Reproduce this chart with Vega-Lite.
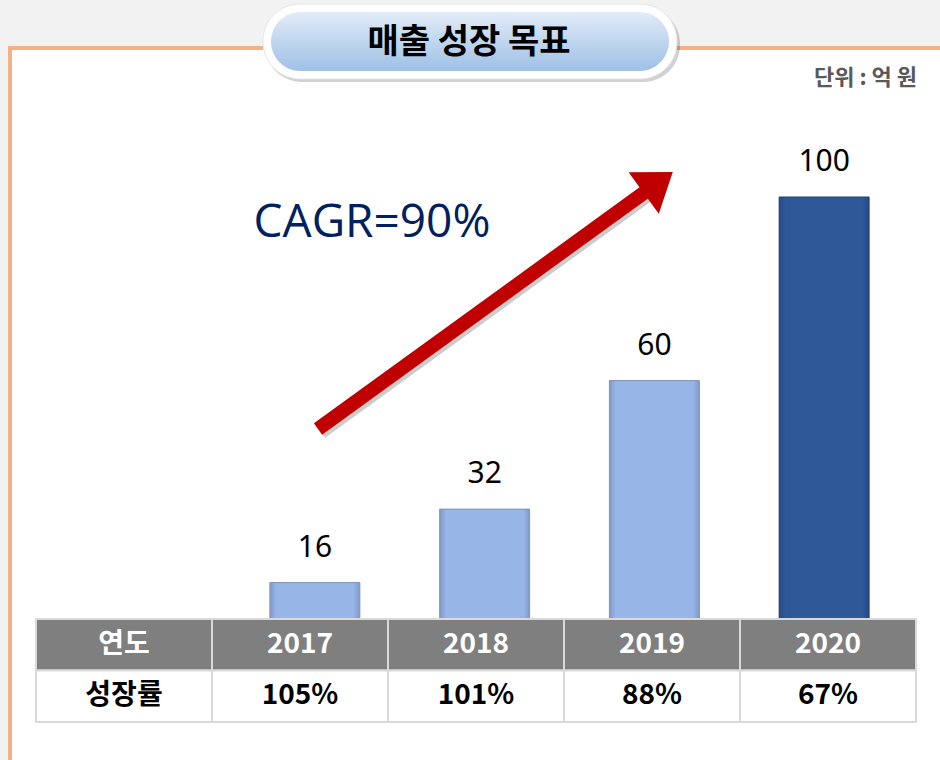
{
  "$schema": "https://vega.github.io/schema/vega-lite/v6.json",
  "width": 940,
  "height": 760,
  "autosize": {"type": "none"},
  "padding": 0,
  "background": "#f2f2f2",
  "config": {"view": {"stroke": null}, "axis": {"disable": true}, "legend": {"disable": true}},
  "datasets": {
    "sales": [
      {"year": "2017", "value": 16},
      {"year": "2018", "value": 32},
      {"year": "2019", "value": 60},
      {"year": "2020", "value": 100}
    ],
    "table": [
      {"col": "label", "row": "연도", "text": "연도"},
      {"col": "2017", "row": "연도", "text": "2017"},
      {"col": "2018", "row": "연도", "text": "2018"},
      {"col": "2019", "row": "연도", "text": "2019"},
      {"col": "2020", "row": "연도", "text": "2020"},
      {"col": "label", "row": "성장률", "text": "성장률"},
      {"col": "2017", "row": "성장률", "text": "105%"},
      {"col": "2018", "row": "성장률", "text": "101%"},
      {"col": "2019", "row": "성장률", "text": "88%"},
      {"col": "2020", "row": "성장률", "text": "67%"}
    ],
    "notes": [
      {"title": "매출 성장 목표", "unit": "단위 : 억 원", "cagr": "CAGR=90%"}
    ]
  },
  "resolve": {"scale": {"x": "independent", "y": "independent"}},
  "layer": [
    {
      "data": {"name": "notes"},
      "mark": {"type": "rect", "fill": "#ffffff", "stroke": "#f4b183", "strokeWidth": 4},
      "encoding": {"x": {"value": 10}, "x2": {"value": 980}, "y": {"value": 48}, "y2": {"value": 762}}
    },
    {
      "data": {"name": "notes"},
      "mark": {"type": "rect", "fill": "#000000", "opacity": 0.18, "cornerRadius": 37},
      "encoding": {"x": {"value": 265}, "x2": {"value": 680}, "y": {"value": 7}, "y2": {"value": 82}}
    },
    {
      "data": {"name": "notes"},
      "mark": {"type": "rect", "fill": "#ffffff", "stroke": "#e6e6e6", "strokeWidth": 1, "cornerRadius": 37},
      "encoding": {"x": {"value": 263}, "x2": {"value": 677}, "y": {"value": 4}, "y2": {"value": 79}}
    },
    {
      "data": {"name": "notes"},
      "mark": {
        "type": "rect",
        "cornerRadius": 30,
        "color": {
          "gradient": "linear", "x1": 0, "y1": 0, "x2": 0, "y2": 1,
          "stops": [{"offset": 0, "color": "#e1ecf8"}, {"offset": 1, "color": "#9fc0e6"}]
        }
      },
      "encoding": {"x": {"value": 271}, "x2": {"value": 669}, "y": {"value": 12}, "y2": {"value": 71}}
    },
    {
      "data": {"name": "notes"},
      "mark": {"type": "text", "font": "Noto Sans CJK KR", "fontWeight": "bold", "fontSize": 34, "color": "#000000", "align": "center", "baseline": "middle"},
      "encoding": {"text": {"field": "title"}, "x": {"value": 469}, "y": {"value": 43}}
    },
    {
      "data": {"name": "notes"},
      "mark": {"type": "text", "font": "Noto Sans CJK KR", "fontWeight": "bold", "fontSize": 22, "color": "#595959", "align": "right", "baseline": "middle"},
      "encoding": {"text": {"field": "unit"}, "x": {"value": 917}, "y": {"value": 78}}
    },
    {
      "data": {"name": "sales"},
      "mark": {
        "type": "bar",
        "stroke": "#8093b8",
        "strokeWidth": 1,
        "color": {
          "gradient": "linear", "x1": 0, "y1": 0, "x2": 1, "y2": 0,
          "stops": [
            {"offset": 0, "color": "#7f99c8"},
            {"offset": 0.07, "color": "#98b5e8"},
            {"offset": 0.93, "color": "#98b5e8"},
            {"offset": 1, "color": "#7f99c8"}
          ]
        }
      },
      "transform": [{"filter": "datum.year != '2020'"}],
      "encoding": {
        "x": {"field": "year", "type": "nominal", "sort": null, "scale": {"domain": ["2017", "2018", "2019", "2020"], "range": [230, 909], "paddingInner": 0.47, "paddingOuter": 0.235}},
        "y": {"field": "value", "type": "quantitative", "scale": {"domain": [0, 100], "range": [656, 197], "zero": true, "nice": false}}
      }
    },
    {
      "data": {"name": "sales"},
      "mark": {
        "type": "bar",
        "stroke": "#253f70",
        "strokeWidth": 1,
        "color": {
          "gradient": "linear", "x1": 0, "y1": 0, "x2": 1, "y2": 0,
          "stops": [
            {"offset": 0, "color": "#254884"},
            {"offset": 0.07, "color": "#2f5899"},
            {"offset": 0.93, "color": "#2f5899"},
            {"offset": 1, "color": "#254884"}
          ]
        }
      },
      "transform": [{"filter": "datum.year == '2020'"}],
      "encoding": {
        "x": {"field": "year", "type": "nominal", "sort": null, "scale": {"domain": ["2017", "2018", "2019", "2020"], "range": [230, 909], "paddingInner": 0.47, "paddingOuter": 0.235}},
        "y": {"field": "value", "type": "quantitative", "scale": {"domain": [0, 100], "range": [656, 197], "zero": true, "nice": false}}
      }
    },
    {
      "data": {"name": "sales"},
      "mark": {"type": "text", "font": "Noto Sans", "fontSize": 30, "color": "#000000", "align": "center", "baseline": "alphabetic", "dy": -26},
      "encoding": {
        "text": {"field": "value", "type": "quantitative"},
        "x": {"field": "year", "type": "nominal", "sort": null, "scale": {"domain": ["2017", "2018", "2019", "2020"], "range": [230, 909], "paddingInner": 0.47, "paddingOuter": 0.235}},
        "y": {"field": "value", "type": "quantitative", "scale": {"domain": [0, 100], "range": [656, 197], "zero": true, "nice": false}}
      }
    },
    {
      "data": {"name": "notes"},
      "mark": {"type": "rule", "color": "#000000", "opacity": 0.2, "strokeWidth": 14},
      "encoding": {"x": {"value": 321}, "y": {"value": 432}, "x2": {"value": 648}, "y2": {"value": 195}}
    },
    {
      "data": {"name": "notes"},
      "mark": {"type": "rule", "color": "#c00000", "strokeWidth": 14},
      "encoding": {"x": {"value": 318}, "y": {"value": 429}, "x2": {"value": 645}, "y2": {"value": 192}}
    },
    {
      "data": {"name": "notes"},
      "mark": {"type": "point", "shape": "M0,-1L1,0.4L-1,0.4Z", "filled": true, "color": "#c00000", "opacity": 1, "size": 2640, "angle": 54},
      "encoding": {"x": {"value": 652}, "y": {"value": 187}}
    },
    {
      "data": {"name": "notes"},
      "mark": {"type": "text", "font": "Open Sans", "fontSize": 46, "color": "#002060", "align": "center", "baseline": "alphabetic"},
      "encoding": {"text": {"field": "cagr"}, "x": {"value": 372}, "y": {"value": 237}}
    },
    {
      "data": {"name": "table"},
      "mark": {"type": "rect", "stroke": "#d9d9d9", "strokeWidth": 2},
      "encoding": {
        "x": {"field": "col", "type": "nominal", "sort": null, "scale": {"domain": ["label", "2017", "2018", "2019", "2020"], "range": [36, 916], "paddingInner": 0, "paddingOuter": 0}},
        "y": {"field": "row", "type": "nominal", "sort": null, "scale": {"domain": ["연도", "성장률"], "range": [619, 722], "paddingInner": 0, "paddingOuter": 0}},
        "color": {"condition": {"test": "datum.row == '연도'", "value": "#7f7f7f"}, "value": "#ffffff"}
      }
    },
    {
      "data": {"name": "table"},
      "mark": {"type": "text", "font": "Noto Sans CJK KR", "fontWeight": "bold", "fontSize": 28, "align": "center", "baseline": "middle"},
      "encoding": {
        "text": {"field": "text"},
        "x": {"field": "col", "type": "nominal", "sort": null, "scale": {"domain": ["label", "2017", "2018", "2019", "2020"], "range": [36, 916], "paddingInner": 0, "paddingOuter": 0}, "bandPosition": 0.5},
        "y": {"field": "row", "type": "nominal", "sort": null, "scale": {"domain": ["연도", "성장률"], "range": [619, 722], "paddingInner": 0, "paddingOuter": 0}, "bandPosition": 0.5},
        "color": {"condition": {"test": "datum.row == '연도'", "value": "#ffffff"}, "value": "#000000"}
      }
    }
  ]
}
